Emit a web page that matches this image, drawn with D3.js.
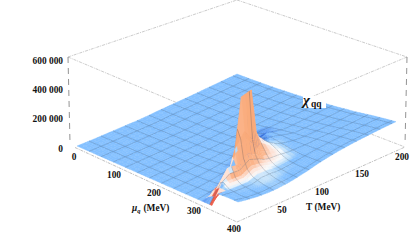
<!DOCTYPE html>
<html>
<head>
<meta charset="utf-8">
<style>
  html, body { margin: 0; padding: 0; background: #fff; }
  svg { display: block; }
  text { font-family: "Liberation Serif", serif; font-size: 9.4px; font-weight: bold; fill: #111; }
</style>
<script src="https://cdn.jsdelivr.net/npm/d3@7"></script>
</head>
<body>
<svg id="chart" width="415" height="245"></svg>
<script>
// values
var muTicks = [0, 100, 200, 300, 400];
var tempTicks = [50, 100, 150, 200];
var chiTicks = [0, 200000, 400000, 600000];
var chiLabels = ["0", "200 000", "400 000", "600 000"];

// surface nodes, extra ones sit around the spike. chi is in thousands
var muNodes = [0, 25, 50, 75, 100, 125, 150, 175, 200, 225, 250, 275, 290, 300, 310, 318, 325, 335, 345, 350, 375, 400];
var tempNodes = [0, 12.5, 25, 37.5, 50, 62.5, 68.75, 75, 87.5, 100, 112.5, 125, 137.5, 150, 162.5, 175, 187.5, 200];
var chiRows = [
  [0, 0, 0, 0, 0, 0, 0, 0, 0, 0, 0, 0, 0, 0, 0, 0, 0, 0, 65, 95, 100, 100],
  [0, 0, 0, 0, 0, 0, 0, 1, 1, 2, 3, 5, 7, 9, 12, 60, 85, 115, 95, 88, 80, 85],
  [0, 0, 0, 0, 1, 1, 2, 2, 3, 5, 7, 11, 15, 20, 28, 45, 175, 110, 88, 82, 73, 72],
  [1, 1, 1, 1, 2, 2, 3, 4, 6, 8, 11, 18, 26, 38, 60, 255, 165, 105, 85, 78, 68, 65],
  [2, 2, 2, 2, 3, 4, 5, 7, 10, 13, 19, 30, 50, 90, 570, 350, 210, 140, 110, 100, 75, 62],
  [3, 3, 3, 4, 5, 6, 8, 10, 14, 19, 27, 45, 80, 150, 585, 250, 170, 125, 105, 95, 75, 65],
  [3, 3, 4, 4, 5, 7, 9, 12, 16, 22, 32, 55, 100, 300, 290, 185, 145, 112, 95, 88, 72, 68],
  [4, 4, 4, 5, 6, 8, 10, 14, 19, 27, 40, 65, 110, 240, 200, 165, 135, 105, 90, 86, 75, 72],
  [6, 6, 6, 7, 8, 10, 13, 17, 23, 30, 50, 110, 170, 165, 150, 138, 122, 105, 92, 88, 80, 82],
  [11, 11, 11, 12, 13, 15, 18, 22, 29, 40, 80, 135, 130, 122, 116, 110, 105, 100, 95, 93, 92, 95],
  [14, 14, 15, 15, 17, 19, 22, 27, 33, 45, 110, 110, 105, 102, 100, 100, 100, 99, 98, 98, 100, 105],
  [17, 17, 18, 19, 20, 23, 26, 30, 38, 68, 85, 90, 90, 90, 92, 94, 95, 98, 102, 103, 107, 112],
  [20, 21, 21, 22, 24, 27, 31, 36, 44, 55, 65, 74, 80, 85, 90, 93, 96, 100, 103, 105, 111, 117],
  [24, 24, 25, 26, 28, 31, 35, 40, 47, 55, 64, 74, 80, 85, 89, 92, 95, 99, 103, 105, 113, 120],
  [28, 28, 29, 30, 32, 35, 39, 44, 50, 57, 65, 74, 79, 83, 87, 90, 94, 98, 102, 105, 114, 122],
  [32, 32, 33, 34, 36, 39, 43, 47, 53, 60, 67, 75, 80, 84, 88, 91, 94, 98, 103, 105, 114, 123],
  [36, 36, 37, 38, 40, 43, 46, 51, 56, 63, 70, 77, 82, 85, 89, 92, 95, 99, 104, 106, 115, 123],
  [40, 40, 41, 42, 44, 47, 50, 55, 60, 66, 72, 80, 84, 87, 91, 94, 97, 101, 105, 107, 115, 122]
];
// the red foot of the spike, in mu and T
var footCorners = [[316, 14], [333, -1], [360, -1]];

var svg = d3.select("#chart");

// floor of the surface, the view is fixed so corners are just measured
var corners = {left: [77, 146], front: [238, 217], right: [396, 140], back: [237, 80]};

var muFrac = d3.scaleLinear().domain([0, 400]).range([0, 1]);
var tempFrac = d3.scaleLinear().domain([0, 200]).range([0, 1]);
var chiPx = d3.scaleLinear().domain([0, 600]).range([0, 90]);

function project(mu, temp, chi) {
  var m = muFrac(mu), t = tempFrac(temp);
  var a = (1 - m) * (1 - t), b = m * (1 - t), c = (1 - m) * t, d = m * t;
  return [
    a * corners.left[0] + b * corners.front[0] + c * corners.back[0] + d * corners.right[0],
    a * corners.left[1] + b * corners.front[1] + c * corners.back[1] + d * corners.right[1] - chiPx(chi)
  ];
}

// height between the table nodes
function chiAt(mu, temp) {
  mu = Math.max(0, Math.min(400, mu));
  temp = Math.max(0, Math.min(200, temp));
  var i = Math.min(d3.bisectRight(muNodes, mu) - 1, muNodes.length - 2);
  var j = Math.min(d3.bisectRight(tempNodes, temp) - 1, tempNodes.length - 2);
  var u = (mu - muNodes[i]) / (muNodes[i + 1] - muNodes[i]);
  var v = (temp - tempNodes[j]) / (tempNodes[j + 1] - tempNodes[j]);
  return (1 - v) * ((1 - u) * chiRows[j][i] + u * chiRows[j][i + 1]) +
    v * ((1 - u) * chiRows[j + 1][i] + u * chiRows[j + 1][i + 1]);
}

// tick label positions along the box edges
var muLabelX = d3.scaleLinear().domain([0, 400]).range([74, 234]);
var muLabelY = d3.scaleLinear().domain([0, 400]).range([156.5, 228.5]);
var tempLabelX = d3.scaleLinear().domain([50, 200]).range([282, 402]);
var tempLabelY = d3.scaleLinear().domain([50, 200]).range([209.5, 156.5]);
var chiLabelY = d3.scaleLinear().domain([0, 600000]).range([148.5, 60.5]);

// bounding box behind the surface
var boxLines = [
  [[68, 57], [237, 0]], [[237, 0], [407, 57]],
  [[68, 57], [237, 128]], [[407, 57], [237, 128]],
  [[237, 83], [405, 147]]
];
svg.selectAll(".box").data(boxLines).join("line")
  .attr("class", "box")
  .attr("x1", function(d) { return d[0][0]; }).attr("y1", function(d) { return d[0][1]; })
  .attr("x2", function(d) { return d[1][0]; }).attr("y2", function(d) { return d[1][1]; })
  .attr("stroke", "#b5b5b5").attr("stroke-width", 0.7).attr("stroke-dasharray", "3 1 1 1");

// shading follows the slope along mu: faces toward the viewer go pale then orange
var slopeColor = d3.scaleLinear()
  .domain([-420, -230, -100, -45, 25, 70, 150, 280, 500, 2000])
  .range(["#2b58d6", "#3f78e6", "#639ff4", "#84c0ff", "#84c0ff", "#b4dafa", "#f7fafc", "#fde2d6", "#fbb48a", "#f9aa7a"])
  .clamp(true);

function cellColor(c) {
  var midMu = (c.mu0 + c.mu1) / 2, midT = (c.t0 + c.t1) / 2;
  var w = 6, slope = 0;
  [-3, 0, 3].forEach(function(dt) {
    slope += (chiAt(midMu - w, midT + dt) - chiAt(midMu + w, midT + dt)) / (2 * w) * 100 / 3;
  });
  if (d3.polygonContains(footCorners, [midMu, midT])) return "#ee5f4c";
  // far side of the first order wall only shows as a sliver along the edge
  if (midMu > 295 && midT < 35 && slope < -100) return "#fde2d6";
  if (midMu > 295 && midT < 80 && slope < -100) return "#f9aa7a";
  return slopeColor(slope);
}

var meshMuStep = 30, meshTempStep = 15;

var sampleMu = Array.from(new Set(d3.range(0, 401, 10).concat(muNodes))).sort(d3.ascending);
var sampleTemp = Array.from(new Set(d3.range(0, 201, 5).concat(tempNodes))).sort(d3.ascending);

// far cells first so nearer ones paint over them
var cells = [];
for (var j = sampleTemp.length - 2; j >= 0; j--) {
  for (var i = 0; i < sampleMu.length - 1; i++) {
    cells.push({mu0: sampleMu[i], mu1: sampleMu[i + 1], t0: sampleTemp[j], t1: sampleTemp[j + 1]});
  }
}

function pt(mu, temp) { return project(mu, temp, chiAt(mu, temp)); }

var cellG = svg.selectAll(".cell").data(cells).join("g").attr("class", "cell");

cellG.append("path")
  .attr("d", function(c) {
    return "M" + [pt(c.mu0, c.t0), pt(c.mu1, c.t0), pt(c.mu1, c.t1), pt(c.mu0, c.t1)].join("L") + "Z";
  })
  .attr("fill", cellColor)
  .attr("stroke", cellColor)
  .attr("stroke-width", 0.4);

// mesh edges go with each cell so that nearer cells hide them
cellG.append("path")
  .attr("d", function(c) {
    var d = "";
    if (c.t1 % meshTempStep === 0 && c.t1 < 200) d += "M" + pt(c.mu0, c.t1) + "L" + pt(c.mu1, c.t1);
    if (c.mu0 % meshMuStep === 0 && c.mu0 > 0) d += "M" + pt(c.mu0, c.t0) + "L" + pt(c.mu0, c.t1);
    return d;
  })
  .attr("fill", "none")
  .attr("stroke", "#1f2f4a")
  .attr("stroke-opacity", 0.42)
  .attr("stroke-width", 0.5);

// axes in front of the surface
var frontLines = [[[75, 147.5], [237, 222]], [[237, 222], [405, 147]]];
svg.selectAll(".front").data(frontLines).join("line")
  .attr("class", "front")
  .attr("x1", function(d) { return d[0][0]; }).attr("y1", function(d) { return d[0][1]; })
  .attr("x2", function(d) { return d[1][0]; }).attr("y2", function(d) { return d[1][1]; })
  .attr("stroke", "#a5a5a5").attr("stroke-width", 0.7).attr("stroke-dasharray", "3 1 1 1");

var sideLines = [[[68, 57], [70, 143]], [[407, 57], [405, 145]]];
svg.selectAll(".side").data(sideLines).join("line")
  .attr("class", "side")
  .attr("x1", function(d) { return d[0][0]; }).attr("y1", function(d) { return d[0][1]; })
  .attr("x2", function(d) { return d[1][0]; }).attr("y2", function(d) { return d[1][1]; })
  .attr("stroke", "#777").attr("stroke-width", 0.8).attr("stroke-dasharray", "6 5");

svg.selectAll(".chiLabel").data(chiTicks).join("text")
  .attr("class", "chiLabel")
  .attr("x", 63)
  .attr("y", function(d) { return chiLabelY(d) + 3; })
  .attr("text-anchor", "end")
  .text(function(d, i) { return chiLabels[i]; });

svg.selectAll(".muLabel").data(muTicks).join("text")
  .attr("class", "muLabel")
  .attr("x", function(d) { return muLabelX(d); })
  .attr("y", function(d) { return muLabelY(d) + 3; })
  .attr("text-anchor", "middle")
  .text(function(d) { return d; });

svg.selectAll(".tempLabel").data(tempTicks).join("text")
  .attr("class", "tempLabel")
  .attr("x", function(d) { return tempLabelX(d); })
  .attr("y", function(d) { return tempLabelY(d) + 3; })
  .attr("text-anchor", "middle")
  .text(function(d) { return d; });

var muTitle = svg.append("text").attr("x", 132).attr("y", 211);
muTitle.append("tspan").attr("font-style", "italic").text("μ");
muTitle.append("tspan").attr("font-style", "italic").attr("dy", 2).style("font-size", "6.5px").text("q");
muTitle.append("tspan").attr("dy", -2).attr("dx", 3).text("(MeV)");

svg.append("text").attr("x", 306).attr("y", 210).text("T (MeV)");

// chi label sits on a white patch
svg.append("rect").attr("x", 303).attr("y", 96).attr("width", 23).attr("height", 12).attr("fill", "#fff");
var chiTitle = svg.append("text").attr("x", 303).attr("y", 105);
chiTitle.append("tspan").attr("font-style", "italic").style("font-size", "15px").text("χ");
chiTitle.append("tspan").attr("dy", 2).attr("dx", 1).style("font-size", "9.5px").text("qq");
</script>
</body>
</html>
